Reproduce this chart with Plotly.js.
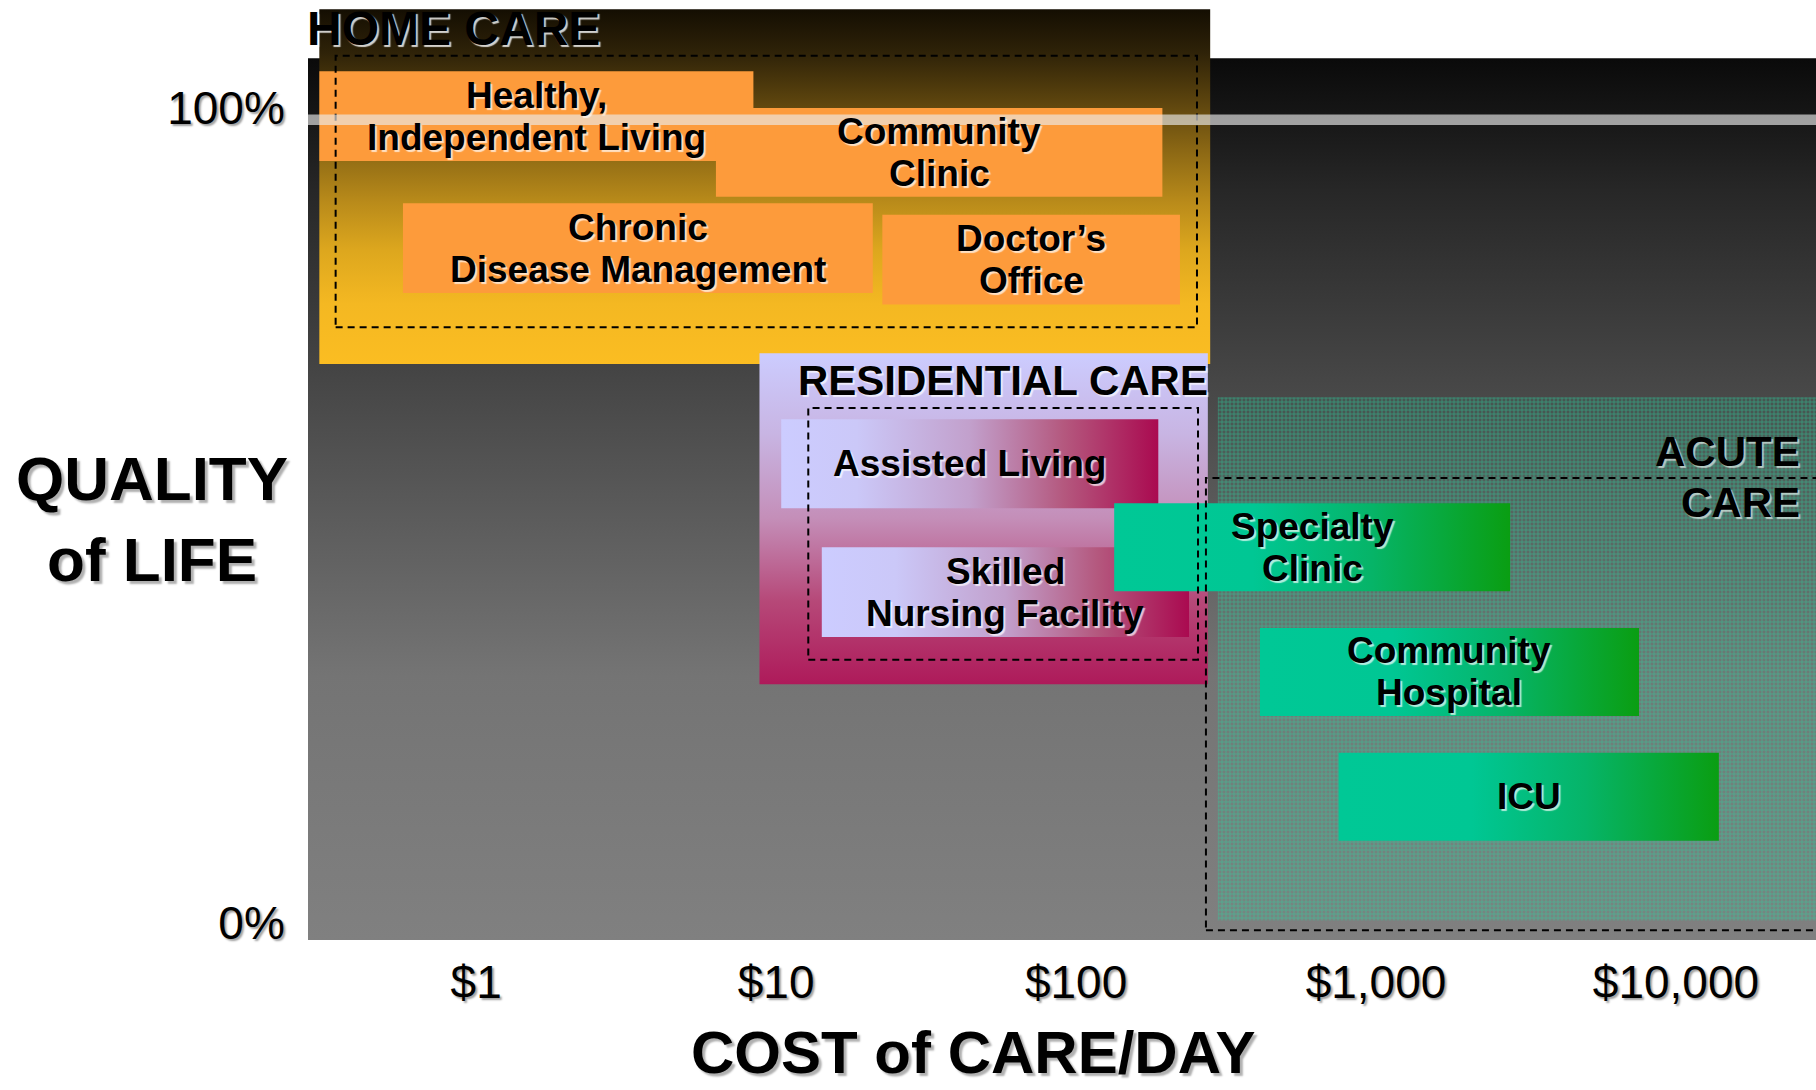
<!DOCTYPE html>
<html>
<head>
<meta charset="utf-8">
<script src="https://cdn.plot.ly/plotly-3.0.1.min.js"></script>
<style>html,body{margin:0;padding:0;background:#fff;}#chart{width:1816px;height:1090px;}</style>
</head>
<body>
<div id="chart"></div>
<script>
// ---- Care settings: cost of care per day ($) and quality of life (%) ----
const settings = ['Healthy,\nIndependent Living', 'Community\nClinic', 'Chronic\nDisease Management', 'Doctor\u2019s\nOffice',
                  'Assisted Living', 'Skilled\nNursing Facility', 'Specialty\nClinic', 'Community\nHospital', 'ICU'];
const settingGroup = ['home', 'home', 'home', 'home', 'residential', 'residential', 'acute', 'acute', 'acute'];
const costLow     = [0.30, 6.3, 0.57, 22.6, 10.4, 14.2, 134, 410, 750];
const costHigh    = [8.4, 194, 21, 222, 188, 238, 2800, 7530, 13900];
const qualityLow  = [93.5, 89.1, 77.3, 75.9, 50.9, 35.1, 40.7, 25.4, 10.1];
const qualityHigh = [104.5, 100.0, 88.3, 86.9, 61.8, 46.1, 51.5, 36.2, 20.9];

// ---- Care categories (overall extent and dashed core range) ----
const categories      = ['HOME CARE', 'RESIDENTIAL CARE', 'ACUTE\nCARE'];
const categoryKey     = ['home', 'residential', 'acute'];
const catCostLow      = [0.30, 8.8, 297];
const catCostHigh     = [280, 275, 30000];
const catQualityLow   = [68.6, 29.3, 0.3];
const catQualityHigh  = [112.1, 69.9, 64.5];
const coreCostLow     = [0.34, 12.8, 271];
const coreCostHigh    = [253, 255, 40000];
const coreQualityLow  = [73.1, 32.3, -0.9];
const coreQualityHigh = [106.4, 63.2, 54.6];

// ---- Axes ----
const costRange     = [0.275, 29300];
const qualityRange  = [-2.09, 113.25];
const chartTop      = 106.1;
const costTicks     = [1, 10, 100, 1000, 10000];
const costTickText  = ['$1', '$10', '$100', '$1,000', '$10,000'];
const qualityTicks  = [0, 100];
const qualityTickText = ['0%', '100%'];

// ---- Styling ----
const FONT = 'Liberation Sans, Arial, Helvetica, sans-serif';
const boxStyle = {
  home: {fillcolor: '#FD9B3B'},
  residential: {fillgradient: {type: 'horizontal', colorscale: [[0, '#CCCCFF'], [0.2, '#CBC8F8'], [0.5, '#C2A0CC'], [0.75, '#B4587E'], [1, '#AA0A50']]}},
  acute: {fillgradient: {type: 'horizontal', colorscale: [[0, '#00C896'], [0.35, '#00C794'], [0.65, '#06B468'], [1, '#0A9E12']]}}
};
const catStyle = {
  home: {fillgradient: {type: 'vertical', colorscale: [[0, '#FBBD22'], [0.17, '#F4B822'], [0.32, '#DDA71E'], [0.46, '#B88A1A'], [0.6, '#8C6814'], [0.74, '#5C440E'], [0.88, '#2E2208'], [1, '#140E02']]}},
  residential: {fillgradient: {type: 'vertical', colorscale: [[0, '#AE1A5A'], [0.25, '#B64878'], [0.5, '#C48EB8'], [0.75, '#C8B4E2'], [1, '#CCCCFF']]}},
  acute: {fillcolor: 'rgba(40,200,150,0.22)', fillpattern: {shape: '+', size: 4, solidity: 0.35, fgcolor: 'rgba(40,210,160,0.55)', bgcolor: 'rgba(40,200,150,0.10)'}}
};

function rect(x0, x1, y0, y1) {
  return {x: [x0, x1, x1, x0, x0], y: [y0, y0, y1, y1, y0]};
}
const traces = [];

// chart background
const bg = rect(costRange[0], costRange[1] * 1.2, qualityRange[0], chartTop);
traces.push(Object.assign({type: 'scatter', mode: 'none', fill: 'toself', hoverinfo: 'skip',
  fillgradient: {type: 'vertical', colorscale: [[0, '#808080'], [0.3, '#747474'], [0.65, '#444444'], [0.85, '#272727'], [0.94, '#151515'], [1, '#0A0A0A']]}}, bg));

function addCategory(i) {
  const r = rect(catCostLow[i], catCostHigh[i], catQualityLow[i], catQualityHigh[i]);
  traces.push(Object.assign({type: 'scatter', mode: 'none', fill: 'toself', hoverinfo: 'skip'}, catStyle[categoryKey[i]], r));
}
function addSettings(group) {
  settings.forEach((s, i) => {
    if (settingGroup[i] !== group) return;
    const r = rect(costLow[i], costHigh[i], qualityLow[i], qualityHigh[i]);
    traces.push(Object.assign({type: 'scatter', mode: 'none', fill: 'toself', hoverinfo: 'skip', name: s}, boxStyle[group], r));
  });
}
// draw order as in the picture
addCategory(2);           // acute area (under everything on the right)
addCategory(0); addSettings('home');
addCategory(1); addSettings('residential');
addSettings('acute');
// dashed core ranges on top
categories.forEach((c, i) => {
  const r = rect(coreCostLow[i], coreCostHigh[i], coreQualityLow[i], coreQualityHigh[i]);
  traces.push(Object.assign({type: 'scatter', mode: 'lines', hoverinfo: 'skip',
    line: {color: '#000', width: 2, dash: '7px,5px'}}, r));
});

// ---- Annotations ----
const annotations = [];
const lbl = (size, shadow) => ({family: FONT, size: size, color: '#000', weight: 'bold', shadow: shadow});
settings.forEach((s, i) => {
  const lines = s.split('\n');
  const xc = (Math.log10(costLow[i]) + Math.log10(costHigh[i])) / 2;
  const yc = (qualityLow[i] + qualityHigh[i]) / 2;
  lines.forEach((t, k) => {
    annotations.push({x: xc, y: yc, xref: 'x', yref: 'y', text: t, showarrow: false,
      yshift: ((lines.length - 1) / 2 - k) * 42, font: lbl(37, '2px 2px 1px rgba(255,255,255,0.7)')});
  });
});
// category titles
annotations.push({x: Math.log10(catCostLow[0]), y: catQualityHigh[0], xref: 'x', yref: 'y', xanchor: 'left', yanchor: 'middle',
  xshift: -14, yshift: -19, text: categories[0], showarrow: false, font: lbl(48, '2px 2px 1px rgba(255,255,255,0.8)')});
annotations.push({x: Math.log10(catCostLow[1]), y: catQualityHigh[1], xref: 'x', yref: 'y', xanchor: 'left', yanchor: 'middle',
  xshift: 37, yshift: -27, text: categories[1], showarrow: false, font: lbl(42, '2px 2px 1px rgba(255,255,255,0.7)')});
categories[2].split('\n').forEach((t, k) => {
  annotations.push({x: 1, y: catQualityHigh[2], xref: 'paper', yref: 'y', xanchor: 'right', yanchor: 'middle',
    xshift: -14, yshift: -54 - k * 51, text: t, showarrow: false, font: lbl(42, '2px 2px 1px rgba(255,255,255,0.6)')});
});
// axis titles
annotations.push({x: -0.1034, y: 0.448, xref: 'paper', yref: 'paper', xanchor: 'center', yanchor: 'middle',
  text: 'QUALITY<br>of LIFE', showarrow: false, font: lbl(62, '3px 3px 2px #b0b0b0')});
annotations.push({x: 0.441, y: -0.1197, xref: 'paper', yref: 'paper', xanchor: 'center', yanchor: 'middle', borderpad: 0,
  text: 'COST of CARE/DAY', showarrow: false, font: lbl(60, '3px 3px 2px #b0b0b0')});

const tickFont = {family: FONT, size: 46, color: '#000', shadow: '2px 2px 2px #a0a0a0'};
const layout = {
  width: 1816, height: 1090,
  margin: {l: 308, r: 0, t: 0, b: 150, pad: 0},
  paper_bgcolor: '#fff', plot_bgcolor: '#fff',
  showlegend: false,
  xaxis: {type: 'log', range: [Math.log10(costRange[0]), Math.log10(costRange[1])], tickvals: costTicks, ticktext: costTickText,
    showgrid: false, zeroline: false, showline: false, ticks: 'outside', ticklen: 2, tickcolor: 'rgba(0,0,0,0)',
    tickfont: tickFont, fixedrange: true},
  yaxis: {range: qualityRange, tickvals: qualityTicks, ticktext: qualityTickText,
    showgrid: false, zeroline: false, showline: false, ticks: 'outside', ticklen: 13, tickcolor: 'rgba(0,0,0,0)',
    tickfont: tickFont, fixedrange: true},
  shapes: [
    {type: 'rect', xref: 'paper', yref: 'y', x0: 0, x1: 1, y0: 97.9, y1: 99.2, layer: 'above',
     fillcolor: 'rgba(235,235,235,0.65)', line: {width: 0}}
  ],
  annotations: annotations
};
Plotly.newPlot('chart', traces, layout, {displayModeBar: false, staticPlot: true});
</script>
</body>
</html>
